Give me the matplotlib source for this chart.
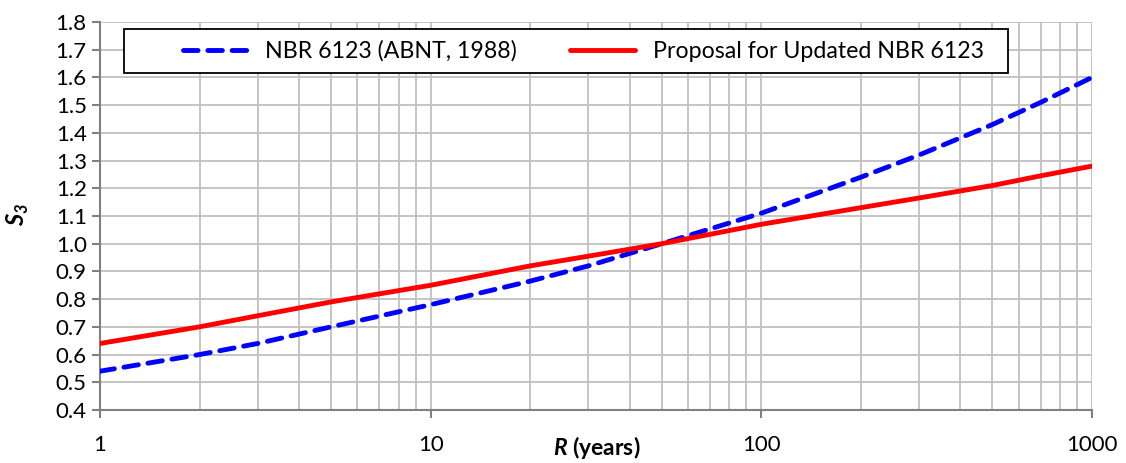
import matplotlib
matplotlib.use('Agg')
import matplotlib.pyplot as plt
from matplotlib.patches import Rectangle
from matplotlib.ticker import FixedLocator, NullFormatter, LogLocator

plt.rcParams['font.family'] = ['Lato', 'DejaVu Sans']
plt.rcParams['mathtext.fontset'] = 'custom'
plt.rcParams['mathtext.bfit'] = 'Lato:bold:italic'
plt.rcParams['mathtext.bf'] = 'Lato:bold'

# return period R (years)
R = [1, 2, 3, 5, 10, 20, 30, 50, 100, 200, 300, 500, 700, 1000]
# S3 values
s3_nbr = [0.54, 0.60, 0.64, 0.70, 0.78, 0.865, 0.92, 1.00, 1.11, 1.24, 1.32, 1.43, 1.51, 1.60]
s3_prop = [0.64, 0.70, 0.74, 0.79, 0.85, 0.92, 0.955, 1.00, 1.07, 1.13, 1.165, 1.21, 1.245, 1.28]

y_ticks = [0.4, 0.5, 0.6, 0.7, 0.8, 0.9, 1.0, 1.1, 1.2, 1.3, 1.4, 1.5, 1.6, 1.7, 1.8]
x_ticks = [1, 10, 100, 1000]

fig = plt.figure(figsize=(11.26, 4.63), dpi=100)
ax = fig.add_axes([0.0888, 0.1145, 0.881, 0.838])

ax.plot(R, s3_nbr, color='#0000ff', lw=3.5, dashes=(3.0, 2.0),
        dash_capstyle='round', label='NBR 6123 (ABNT, 1988)', zorder=3)
ax.plot(R, s3_prop, color='#ff0000', lw=3.5, solid_capstyle='round',
        label='Proposal for Updated NBR 6123', zorder=3)

ax.set_xscale('log')
ax.set_xlim(1, 1000)
ax.set_ylim(0.4, 1.8)
ax.set_yticks(y_ticks)
ax.set_yticklabels([f'{v:.1f}' for v in y_ticks])
ax.xaxis.set_major_locator(FixedLocator(x_ticks))
ax.set_xticklabels([str(v) for v in x_ticks])
ax.xaxis.set_minor_locator(LogLocator(base=10, subs=range(2, 10)))
ax.xaxis.set_minor_formatter(NullFormatter())

ax.grid(True, which='both', color='#c0c0c0', lw=1.3)
ax.set_axisbelow(True)
for s in ['top', 'right']:
    ax.spines[s].set_visible(False)
for s in ['left', 'bottom']:
    ax.spines[s].set_color('#808080')
    ax.spines[s].set_linewidth(1.5)
ax.tick_params(axis='both', which='major', colors='#808080', width=1.5,
               length=6, labelsize=16, labelcolor='black')
ax.tick_params(axis='x', which='major', pad=12)
ax.tick_params(axis='x', which='minor', length=0)

fig.text(0.016, 0.538, r'$\mathbfit{S}_{\mathbfit{3}}$', rotation=90,
         fontsize=17, ha='center', va='center')
fig.text(0.530, 0.004, r'$\mathbfit{R}$ (years)', fontsize=16.5,
         fontweight='bold', ha='center', va='bottom')

# legend box drawn by hand, entries placed without a frame
ax.add_patch(Rectangle((0.024, 0.869), 0.891, 0.113, transform=ax.transAxes,
                       facecolor='white', edgecolor='black', lw=1.3, zorder=4))
leg = ax.legend(loc='center left', bbox_to_anchor=(0.0837, 0.925), ncol=2,
                fontsize=16.7, frameon=False, borderpad=0, borderaxespad=0,
                handlelength=2.8, handletextpad=0.75, columnspacing=2.3)
leg.set_zorder(5)

fig.savefig('out.png', dpi=100)
